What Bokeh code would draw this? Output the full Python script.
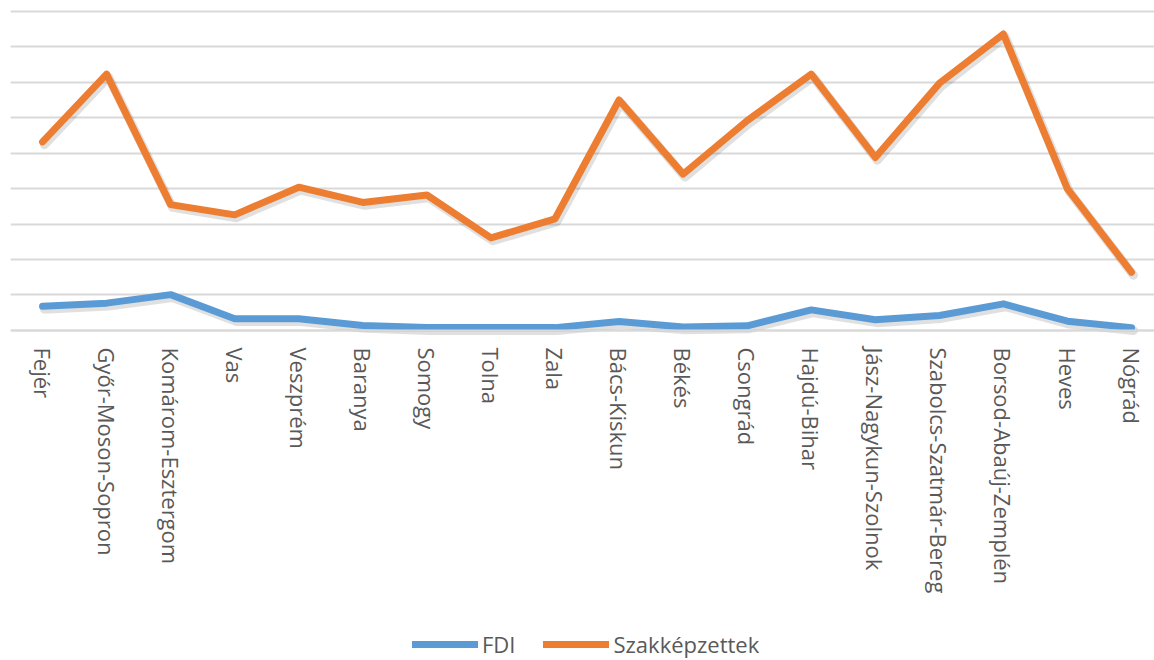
import math
from bokeh.plotting import figure
from bokeh.models import Range1d, FixedTicker, Legend, LegendItem
from bokeh.embed import file_html
from bokeh.resources import INLINE

regions = ["Fejér", "Győr-Moson-Sopron", "Komárom-Esztergom", "Vas", "Veszprém",
           "Baranya", "Somogy", "Tolna", "Zala", "Bács-Kiskun", "Békés", "Csongrád",
           "Hajdú-Bihar", "Jász-Nagykun-Szolnok", "Szabolcs-Szatmár-Bereg",
           "Borsod-Abaúj-Zemplén", "Heves", "Nógrád"]
fdi = [0.68, 0.77, 1.01, 0.33, 0.33, 0.14, 0.08, 0.08, 0.08, 0.25, 0.10, 0.13,
       0.58, 0.30, 0.42, 0.75, 0.26, 0.08]
szak = [5.32, 7.23, 3.55, 3.26, 4.04, 3.61, 3.82, 2.61, 3.15, 6.50, 4.41, 5.92,
        7.23, 4.88, 6.97, 8.36, 3.99, 1.64]
grid_levels = list(range(10))

xs = list(range(len(regions)))
FONT = "Open Sans"
TXT = "#595959"

p = figure(width=1154, height=660, output_backend="svg", toolbar_location=None,
           x_range=Range1d(-0.5, 17.358), y_range=Range1d(-9.309, 9.25),
           min_border_left=10, min_border_right=0, min_border_top=2,
           min_border_bottom=0)
p.outline_line_color = None
p.background_fill_color = "white"
p.border_fill_color = "white"

p.yaxis.visible = False
p.xgrid.visible = False
p.ygrid.ticker = FixedTicker(ticks=grid_levels)
p.ygrid.grid_line_color = "#d9d9d9"
p.ygrid.grid_line_width = 2

ax = p.xaxis[0]
ax.fixed_location = 0
ax.ticker = FixedTicker(ticks=xs)
ax.major_label_overrides = {i: r for i, r in enumerate(regions)}
ax.major_label_orientation = -math.pi / 2
ax.major_label_text_font = FONT
ax.major_label_text_font_size = "22px"
ax.major_label_text_color = TXT
ax.major_label_standoff = 11
ax.major_tick_line_color = None
ax.minor_tick_line_color = None
ax.axis_line_color = "#d9d9d9"
ax.axis_line_width = 2

# soft shadows
shx = [x + 0.03 for x in xs]
p.line(shx, [v - 0.08 for v in fdi], line_width=9, line_color="black", line_alpha=0.12,
       line_cap="round", line_join="round")
p.line(shx, [v - 0.08 for v in szak], line_width=9, line_color="black", line_alpha=0.12,
       line_cap="round", line_join="round")

r1 = p.line(xs, fdi, line_width=7, line_color="#5b9bd5", line_cap="round", line_join="round")
r2 = p.line(xs, szak, line_width=7, line_color="#ed7d31", line_cap="round", line_join="round")

legend = Legend(items=[LegendItem(label="FDI", renderers=[r1]),
                       LegendItem(label="Szakképzettek", renderers=[r2])],
                location=(402, 1), orientation="horizontal",
                glyph_width=66, glyph_height=24, label_standoff=4, spacing=28,
                padding=0, margin=0,
                label_text_font=FONT, label_text_font_size="22px",
                label_text_color=TXT,
                border_line_color=None, background_fill_alpha=0)
p.add_layout(legend, "center")

open("out.html", "w").write(file_html(p, INLINE))
